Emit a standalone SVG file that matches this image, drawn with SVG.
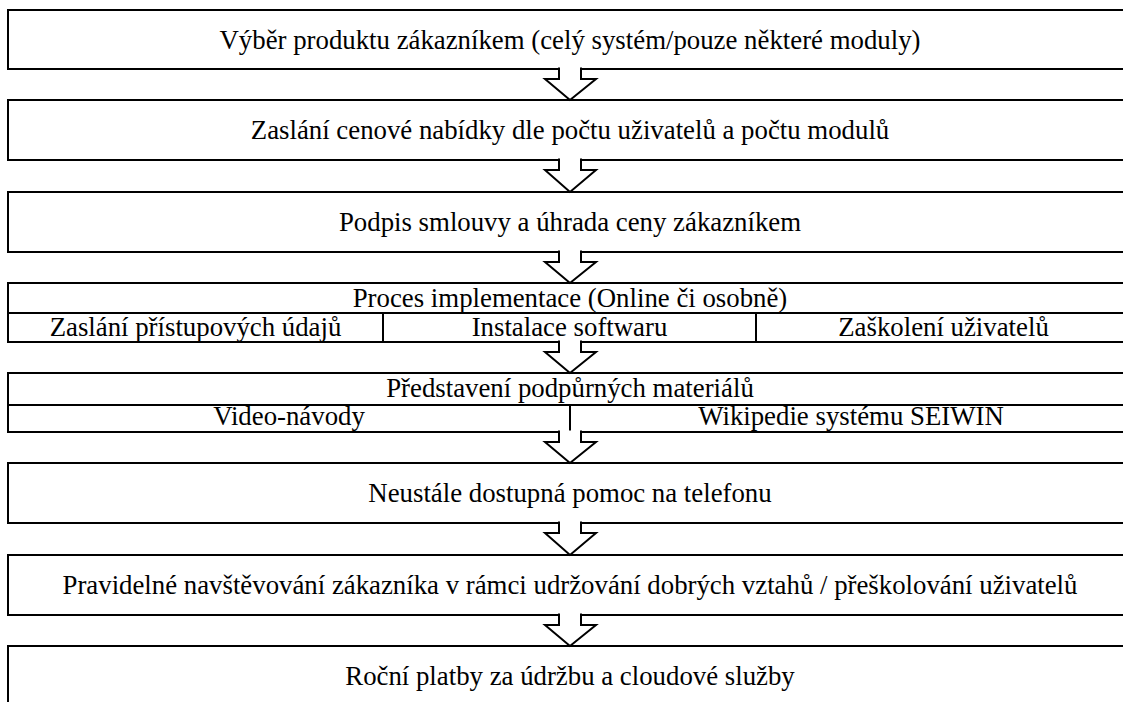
<svg xmlns="http://www.w3.org/2000/svg" width="1123" height="702" viewBox="0 0 1123 702">
<style>
.box{fill:#fff;stroke:#000;stroke-width:2}
.ln{stroke:#000;stroke-width:2}
.t{font-family:"Liberation Serif","Times New Roman",Times,serif;font-size:26.8px;fill:#000;text-anchor:middle}
.arr{fill:#fff;stroke:#000;stroke-width:2;stroke-linejoin:miter}
</style>
<rect width="1123" height="702" fill="#fff"/>
<g id="n1"><rect class="box" x="8" y="10" width="1124" height="59"/><text class="t" x="570" y="48.5">Výběr produktu zákazníkem (celý systém/pouze některé moduly)</text></g>
<g id="n2"><rect class="box" x="8" y="100" width="1124" height="60"/><text class="t" x="570" y="138.5">Zaslání cenové nabídky dle počtu uživatelů a počtu modulů</text></g>
<g id="n3"><rect class="box" x="8" y="192" width="1124" height="60"/><text class="t" x="570" y="230.5">Podpis smlouvy a úhrada ceny zákazníkem</text></g>
<g id="n4"><rect class="box" x="8" y="283" width="1124" height="59"/><line class="ln" x1="8" y1="313" x2="1132" y2="313"/><line class="ln" x1="383" y1="313" x2="383" y2="342"/><line class="ln" x1="756" y1="313" x2="756" y2="342"/>
<text class="t" x="570" y="306.5">Proces implementace (Online či osobně)</text>
<text class="t" x="195.5" y="336">Zaslání přístupových údajů</text>
<text class="t" x="569.5" y="336">Instalace softwaru</text>
<text class="t" x="943.5" y="336">Zaškolení uživatelů</text></g>
<g id="n5"><rect class="box" x="8" y="373" width="1124" height="59"/><line class="ln" x1="8" y1="405" x2="1132" y2="405"/><line class="ln" x1="570" y1="405" x2="570" y2="432"/>
<text class="t" x="570" y="396.5">Představení podpůrných materiálů</text>
<text class="t" x="289" y="425">Video-návody</text>
<text class="t" x="851" y="425">Wikipedie systému SEIWIN</text></g>
<g id="n6"><rect class="box" x="8" y="463" width="1124" height="60"/><text class="t" x="570" y="501.5">Neustále dostupná pomoc na telefonu</text></g>
<g id="n7"><rect class="box" x="8" y="555" width="1124" height="60"/><text class="t" x="570" y="593.5">Pravidelné navštěvování zákazníka v rámci udržování dobrých vztahů / přeškolování uživatelů</text></g>
<g id="n8"><rect class="box" x="8" y="646" width="1124" height="80"/><text class="t" x="570" y="684.5">Roční platby za údržbu a cloudové služby</text></g>
<g id="connectors">
<polyline class="arr" points="559,67.5 559,79 545,79 570,100 596,79 581,79 581,67.5"/>
<polyline class="arr" points="559,158.5 559,170 545,170 570,192 596,170 581,170 581,158.5"/>
<polyline class="arr" points="559,250.5 559,262 545,262 570,283 596,262 581,262 581,250.5"/>
<polyline class="arr" points="559,340.5 559,352 545,352 570,373 596,352 581,352 581,340.5"/>
<polyline class="arr" points="559,430.5 559,442 545,442 570,463 596,442 581,442 581,430.5"/>
<polyline class="arr" points="559,521.5 559,533 545,533 570,555 596,533 581,533 581,521.5"/>
<polyline class="arr" points="559,613.5 559,625 545,625 570,646 596,625 581,625 581,613.5"/>
</g>
</svg>
